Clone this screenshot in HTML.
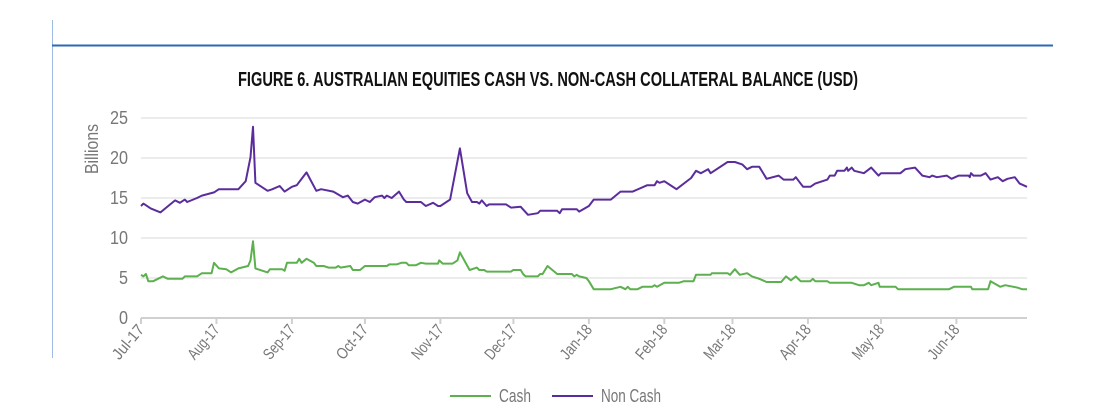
<!DOCTYPE html>
<html><head><meta charset="utf-8"><style>
html,body{margin:0;padding:0;background:#fff;}
svg{display:block;font-family:"Liberation Sans",sans-serif;}
</style></head><body>
<svg id="chart" width="1098" height="415" viewBox="0 0 1098 415" xmlns="http://www.w3.org/2000/svg">
<line x1="52.5" y1="20" x2="52.5" y2="358" stroke="#9dbbe3" stroke-width="1"/>
<line x1="52" y1="45.5" x2="1053" y2="45.5" stroke="#2e69b3" stroke-width="2"/>
<text x="548" y="86" text-anchor="middle" font-size="20" font-weight="bold" fill="#111" textLength="620" lengthAdjust="spacingAndGlyphs">FIGURE 6. AUSTRALIAN EQUITIES CASH VS. NON-CASH COLLATERAL BALANCE (USD)</text>
<text transform="translate(98,149) rotate(-90)" text-anchor="middle" font-size="18" fill="#777" textLength="50" lengthAdjust="spacingAndGlyphs">Billions</text>
<g id="grid"></g><g id="axes"></g><g id="series"></g>
<g>
<g>
<line x1="450" y1="396" x2="491" y2="396" stroke="#5cb04e" stroke-width="2"/>
<text x="499" y="402" font-size="18" fill="#777" textLength="32" lengthAdjust="spacingAndGlyphs">Cash</text></g>
<g>
<line x1="552" y1="396" x2="593" y2="396" stroke="#5b2d9c" stroke-width="2"/>
<text x="601" y="402" font-size="18" fill="#777" textLength="60" lengthAdjust="spacingAndGlyphs">Non Cash</text></g>
</g>
</svg>
<script>
const yTicks=[0,5,10,15,20,25];
const monthLabels=["Jul-17","Aug-17","Sep-17","Oct-17","Nov-17","Dec-17","Jan-18","Feb-18","Mar-18","Apr-18","May-18","Jun-18"];
const monthDays=[0,31,62,92,123,153,184,215,243,274,304,335];
const nonCashDays=[0,1,4,8,10,14,16,18,19,23,25,30,32,40,43,45,46,47,52,54,57,59,62,64,68,72,74,79,83,85,87,89,92,94,96,99,100,101,103,106,108,109,115,117,120,122,123,127,131,134,136,138,139,140,142,143,150,152,156,159,163,164,171,172,173,179,180,184,186,193,197,202,208,211,212,213,215,218,220,226,228,230,233,234,241,244,247,249,251,254,257,262,264,268,269,272,275,277,282,283,285,286,289,290,290.5,292,293,297,300,303,304,312,314,318,321,324,325,327,331,333,336,340,340.5,341,342,345,347,349,352,354,356,359,361,364];
const nonCashVals=[14.0,14.3,13.7,13.2,13.7,14.7,14.4,14.8,14.5,15.0,15.3,15.7,16.1,16.1,17.1,20.1,23.9,16.9,15.9,16.1,16.5,15.8,16.4,16.6,18.2,15.9,16.1,15.8,15.1,15.3,14.5,14.3,14.8,14.5,15.1,15.3,15.0,15.3,15.0,15.8,14.8,14.5,14.5,14.0,14.4,14.0,14.0,14.8,21.2,15.6,14.5,14.5,14.3,14.7,14.0,14.2,14.2,13.8,13.9,12.9,13.1,13.4,13.4,13.1,13.6,13.6,13.3,14.0,14.8,14.8,15.8,15.8,16.6,16.6,17.1,16.9,17.1,16.5,16.1,17.5,18.4,18.1,18.6,18.1,19.5,19.5,19.2,18.6,18.9,18.9,17.4,17.8,17.3,17.3,17.6,16.4,16.4,16.8,17.3,17.8,17.8,18.4,18.4,18.8,18.4,18.8,18.4,18.1,18.8,17.8,18.1,18.1,18.6,18.8,17.8,17.6,17.8,17.6,17.8,17.4,17.8,17.8,17.6,18.1,17.8,17.8,18.1,17.3,17.6,17.1,17.4,17.6,16.8,16.4];
const cashDays=[0,1,2,3,5,7,9,11,17,18,23,25,29,30,32,35,37,40,44,45,46,47,52,53,58,59,60,64,65,66,68,71,72,75,77,80,81,82,86,87,90,92,101,102,105,107,109,110,113,115,117,122,122.5,124,128,130,131,135,138,139,141,142,152,153,156,157,158,163,164,165,167,171,177,178,179,180,183,184,186,193,197,199,200,201,204,206,210,211,212,215,221,223,227,228,234,234.5,241,242,244,246,249,251,254,257,263,265,267,269,271,275,276,277,282,283,292,295,297,299,300,303,303.5,310,311,332,334,341,341.5,348,349,353,355,360,362,364];
const cashVals=[5.4,5.2,5.5,4.6,4.6,4.9,5.2,4.9,4.9,5.2,5.2,5.6,5.6,6.9,6.2,6.1,5.7,6.2,6.5,7.2,9.6,6.2,5.7,6.1,6.1,5.9,6.9,6.9,7.4,6.9,7.4,6.9,6.5,6.5,6.3,6.3,6.5,6.3,6.5,6.0,6.0,6.5,6.5,6.7,6.7,6.9,6.9,6.6,6.6,6.9,6.8,6.8,7.2,6.8,6.8,7.2,8.2,6.0,6.3,6.0,6.0,5.8,5.8,6.0,6.0,5.5,5.2,5.2,5.5,5.5,6.5,5.5,5.5,5.2,5.4,5.2,5.0,4.6,3.6,3.6,3.9,3.6,3.9,3.6,3.6,3.9,3.9,4.1,3.9,4.4,4.4,4.6,4.6,5.4,5.4,5.6,5.6,5.4,6.1,5.4,5.6,5.2,4.9,4.5,4.5,5.2,4.7,5.2,4.6,4.6,4.9,4.6,4.6,4.4,4.4,4.1,4.1,4.4,4.1,4.4,3.9,3.9,3.6,3.6,3.9,3.9,3.6,3.6,4.6,3.9,4.1,3.8,3.6,3.6];

const NS="http://www.w3.org/2000/svg";
const X0=141,X1=1027,Y0=318,Y1=118,DMAX=364,VMAX=25;
function xs(d){return X0+(X1-X0)*d/DMAX;}
function ys(v){return Y0-(Y0-Y1)*v/VMAX;}
function mk(tag,attrs,parent){const e=document.createElementNS(NS,tag);for(const k in attrs)e.setAttribute(k,attrs[k]);parent.appendChild(e);return e;}
const grid=document.getElementById('grid'),axes=document.getElementById('axes'),ser=document.getElementById('series');
yTicks.forEach(v=>{
  if(v>0){const g=mk('line',{x1:X0,x2:X1,y1:ys(v),y2:ys(v),stroke:'#ececec','stroke-width':2},grid);
  
  }
  const t=mk('text',{x:128,y:ys(v)+6,'text-anchor':'end','font-size':18,fill:'#777',textLength:v>=10?18:9,lengthAdjust:'spacingAndGlyphs'},axes);
  t.textContent=v;
  
  
});
const ax=mk('line',{x1:X0,x2:X1,y1:Y0,y2:Y0,stroke:'#d0d0d0','stroke-width':2},axes);


monthDays.forEach((d,i)=>{
  const x=xs(d);
  const tk=mk('line',{x1:x,x2:x,y1:Y0,y2:Y0+6,stroke:'#d0d0d0','stroke-width':2},axes);
  
  
  const t=mk('text',{transform:`translate(${x+4},${Y0+12}) rotate(-50)`,'text-anchor':'end','font-size':16,fill:'#777',textLength:40,lengthAdjust:'spacingAndGlyphs'},axes);
  t.textContent=monthLabels[i];
  
  
});
function line(days,vals,color,name){
  const pts=days.map((d,i)=>xs(d).toFixed(1)+','+ys(vals[i]).toFixed(1)).join(' ');
  const p=mk('polyline',{points:pts,fill:'none',stroke:color,'stroke-width':2,'stroke-linejoin':'round'},ser);
  
  
}
line(nonCashDays,nonCashVals,'#5b2d9c','non-cash-line');
line(cashDays,cashVals,'#5cb04e','cash-line');
</script>
</body></html>
